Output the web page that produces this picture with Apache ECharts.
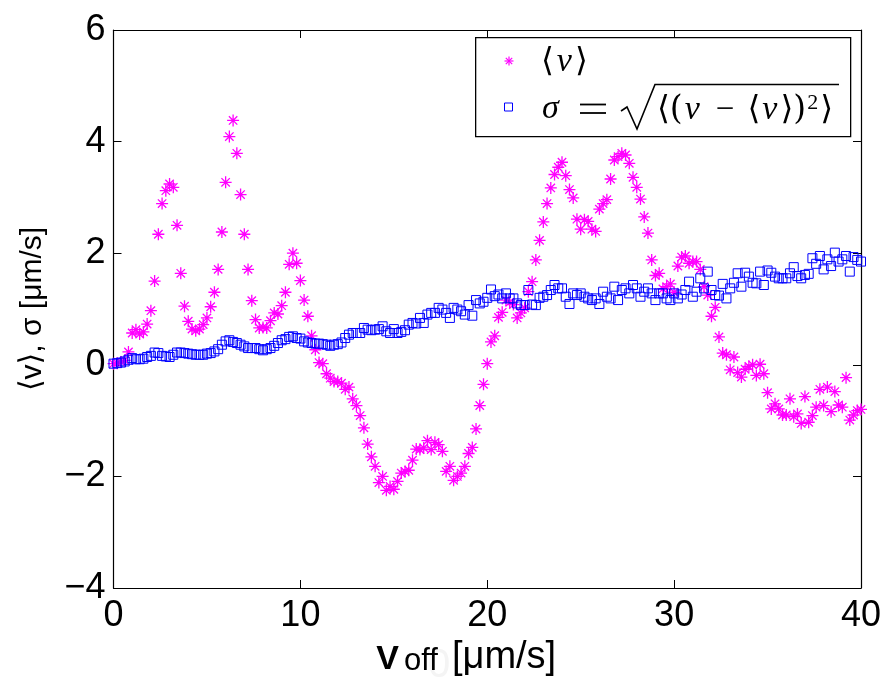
<!DOCTYPE html>
<html>
<head>
<meta charset="utf-8">
<script src="https://cdn.jsdelivr.net/npm/echarts@6/dist/echarts.min.js"></script>
<style>
html,body{margin:0;padding:0;background:#fff;}
#chart{width:887px;height:695px;}
</style>
</head>
<body>
<div id="chart"></div>
<script>
// sample grid (V_off, µm/s)
const vOff = [
0,0.2,0.4,0.6,0.8,1,1.2,1.4,1.6,1.8,
2,2.2,2.4,2.6,2.8,3,3.2,3.4,3.6,3.8,
4,4.2,4.4,4.6,4.8,5,5.2,5.4,5.6,5.8,
6,6.2,6.4,6.6,6.8,7,7.2,7.4,7.6,7.8,
8,8.2,8.4,8.6,8.8,9,9.2,9.4,9.6,9.8,
10,10.2,10.4,10.6,10.8,11,11.2,11.4,11.6,11.8,
12,12.2,12.4,12.6,12.8,13,13.2,13.4,13.6,13.8,
14,14.2,14.4,14.6,14.8,15,15.2,15.4,15.6,15.8,
16,16.2,16.4,16.6,16.8,17,17.2,17.4,17.6,17.8,
18,18.2,18.4,18.6,18.8,19,19.2,19.4,19.6,19.8,
20,20.2,20.4,20.6,20.8,21,21.2,21.4,21.6,21.8,
22,22.2,22.4,22.6,22.8,23,23.2,23.4,23.6,23.8,
24,24.2,24.4,24.6,24.8,25,25.2,25.4,25.6,25.8,
26,26.2,26.4,26.6,26.8,27,27.2,27.4,27.6,27.8,
28,28.2,28.4,28.6,28.8,29,29.2,29.4,29.6,29.8,
30,30.2,30.4,30.6,30.8,31,31.2,31.4,31.6,31.8,
32,32.2,32.4,32.6,32.8,33,33.2,33.4,33.6,33.8,
34,34.2,34.4,34.6,34.8,35,35.2,35.4,35.6,35.8,
36,36.2,36.4,36.6,36.8,37,37.2,37.4,37.6,37.8,
38,38.2,38.4,38.6,38.8,39,39.2,39.4,39.6,39.8,
40];

// <v>
const meanV = [
0.02,0.03,0.05,0.08,0.23,0.57,0.63,0.55,0.59,0.73,
0.97,1.50,2.34,2.89,3.12,3.24,3.18,2.50,1.64,1.05,
0.78,0.64,0.61,0.64,0.72,0.84,1.04,1.30,1.71,2.38,
3.27,4.09,4.38,3.79,3.05,2.34,1.71,1.15,0.81,0.66,
0.67,0.66,0.79,0.93,0.91,1.06,1.30,1.80,2.00,1.82,
1.51,1.16,0.87,0.52,0.27,0.04,0.02,-0.16,-0.24,-0.30,
-0.30,-0.33,-0.44,-0.40,-0.61,-0.73,-0.91,-1.13,-1.42,-1.65,
-1.82,-2.11,-2.00,-2.25,-2.18,-2.23,-2.09,-1.94,-1.91,-1.89,
-1.71,-1.51,-1.52,-1.49,-1.36,-1.52,-1.39,-1.43,-1.55,-1.91,
-1.82,-2.07,-2.00,-1.94,-1.82,-1.59,-1.48,-1.15,-0.73,-0.35,
0.02,0.41,0.52,0.85,0.94,1.16,1.12,1.08,0.84,0.93,
1.02,1.31,1.49,1.88,2.23,2.56,2.89,3.17,3.41,3.54,
3.63,3.39,3.14,2.99,2.61,2.43,2.60,2.57,2.43,2.39,
2.79,2.89,2.96,3.33,3.67,3.73,3.79,3.76,3.61,3.36,
3.18,2.97,2.65,2.36,1.88,1.60,1.64,1.36,1.40,1.45,
1.30,1.77,1.93,1.95,1.82,1.85,1.85,1.71,1.40,1.25,
0.87,1.03,0.50,0.21,0.18,-0.09,0.14,-0.14,-0.22,-0.08,
-0.03,0.00,-0.19,0.01,-0.16,-0.50,-0.79,-0.70,-0.79,-0.90,
-0.90,-0.61,-0.93,-0.88,-1.05,-0.57,-1.03,-0.91,-0.76,-0.44,
-0.73,-0.40,-0.84,-0.48,-0.72,-0.76,-0.23,-0.99,-0.90,-0.82,
-0.80];

// sigma
const sigmaV = [
0.02,0.03,0.04,0.06,0.09,0.12,0.10,0.10,0.11,0.14,
0.16,0.22,0.21,0.16,0.15,0.14,0.18,0.22,0.22,0.21,
0.20,0.19,0.18,0.18,0.18,0.20,0.21,0.24,0.28,0.36,
0.42,0.44,0.41,0.39,0.36,0.33,0.30,0.30,0.30,0.28,
0.26,0.28,0.30,0.34,0.39,0.44,0.46,0.50,0.51,0.48,
0.47,0.42,0.40,0.39,0.38,0.38,0.37,0.36,0.34,0.36,
0.37,0.40,0.48,0.54,0.57,0.57,0.57,0.66,0.63,0.62,
0.63,0.64,0.69,0.60,0.57,0.64,0.57,0.59,0.62,0.72,
0.75,0.74,0.84,0.75,0.90,0.93,0.93,1.02,0.99,0.93,
0.84,1.02,0.99,0.96,0.90,1.07,0.88,1.16,1.10,1.13,
1.20,1.35,1.23,1.26,1.19,1.28,1.19,1.19,1.10,1.07,
1.07,1.34,1.08,1.07,1.20,1.22,1.25,1.34,1.43,1.37,
1.37,1.22,1.09,1.28,1.25,1.28,1.22,1.19,1.16,1.19,
1.09,1.31,1.22,1.19,1.40,1.16,1.34,1.37,1.28,1.43,
1.37,1.22,1.31,1.37,1.28,1.16,1.28,1.28,1.19,1.16,
1.28,1.19,1.26,1.34,1.49,1.22,1.31,1.55,1.37,1.67,
1.34,1.25,1.24,1.45,1.19,1.37,1.47,1.64,1.40,1.65,
1.58,1.47,1.46,1.67,1.43,1.69,1.65,1.58,1.55,1.55,
1.55,1.64,1.75,1.59,1.55,1.61,1.63,1.91,1.81,1.95,
1.71,1.89,1.77,2.01,1.85,1.89,1.95,1.67,1.93,1.88,
1.85];

const xTicks = [0, 10, 20, 30, 40];
const yTicks = [-4, -2, 0, 2, 4, 6];

const ASTERISK = 'path://M0,5L10,5M5,0L5,10M1.5,1.5L8.5,8.5M1.5,8.5L8.5,1.5';
const MAG = '#ff00ff';
const BLU = '#0000ff';
const SANS = '"Liberation Sans", Arial, Helvetica, sans-serif';
const SERIF = '"Liberation Serif", "DejaVu Serif", serif';
const BRK = '"DejaVu Sans", sans-serif';
const BRKS = '"DejaVu Serif", "DejaVu Sans", serif';

const chart = echarts.init(document.getElementById('chart'), null, {renderer: 'canvas'});

function axisCommon() {
  return {
    axisLine: {show: true, onZero: false, lineStyle: {color: '#000', width: 1.2}},
    axisTick: {show: true, inside: true, length: 8, lineStyle: {color: '#000', width: 1}},
    splitLine: {show: false}
  };
}

const option = {
  backgroundColor: '#fff',
  animation: false,
  grid: {left: 113.5, right: 26, top: 30, bottom: 107, containLabel: false},
  xAxis: [
    Object.assign({
      type: 'value', min: xTicks[0], max: xTicks[xTicks.length-1], interval: 10, position: 'bottom',
      axisLabel: {color: '#000', fontSize: 36, fontFamily: SANS, margin: 10},
      name: '{V|V}{s|off}{u|[μm/s]}',
      nameLocation: 'middle', nameGap: 50,
      nameTextStyle: {
        padding: [0, 42, 0, 0],
        rich: {
          V: {fontSize: 34, fontWeight: 'bold', fontFamily: SANS, color: '#000', verticalAlign: 'bottom', padding: [0, 5, 0, 0]},
          s: {fontSize: 31, fontFamily: SANS, color: '#000', verticalAlign: 'bottom', padding: [0, 14, 0, 0]},
          u: {fontSize: 38, fontFamily: SANS, color: '#000', verticalAlign: 'bottom'}
        }
      }
    }, axisCommon()),
    Object.assign({
      type: 'value', min: xTicks[0], max: xTicks[xTicks.length-1], interval: 10, position: 'top',
      axisLabel: {show: false}
    }, axisCommon())
  ],
  yAxis: [
    Object.assign({
      type: 'value', min: yTicks[0], max: yTicks[yTicks.length-1], interval: 2, position: 'left',
      axisLabel: {color: '#000', fontSize: 36, fontFamily: SANS, margin: 8,
        formatter: v => (v < 0 ? '\u2212' + Math.abs(v) : String(v))},
      name: '{b|⟨}{t|v}{b|⟩}{t|, σ [μm/s]}',
      nameLocation: 'middle', nameGap: 66, nameRotate: 90,
      nameTextStyle: {
        rich: {
          b: {fontSize: 30, fontFamily: BRK, color: '#000'},
          t: {fontSize: 30, fontFamily: SANS, color: '#000'}
        }
      }
    }, axisCommon()),
    Object.assign({
      type: 'value', min: yTicks[0], max: yTicks[yTicks.length-1], interval: 2, position: 'right',
      axisLabel: {show: false}
    }, axisCommon())
  ],
  series: [
    {
      name: '⟨v⟩', type: 'scatter',
      data: vOff.map((x, i) => [x, meanV[i]]),
      symbol: ASTERISK, symbolSize: 12,
      itemStyle: {color: 'rgba(0,0,0,0)', borderColor: MAG, borderWidth: 1.3, opacity: 1},
      z: 2
    },
    {
      name: 'σ', type: 'scatter',
      data: vOff.map((x, i) => [x, sigmaV[i]]),
      symbol: 'rect', symbolSize: 9,
      itemStyle: {color: 'rgba(0,0,0,0)', borderColor: BLU, borderWidth: 1, opacity: 1},
      z: 3
    }
  ],
  graphic: [
    {type: 'rect', left: 475, top: 37, z: 100,
     shape: {width: 375, height: 99},
     style: {fill: '#fff', stroke: '#000', lineWidth: 1.3}},
    // legend symbol: asterisk
    {type: 'line', z: 101, shape: {x1: 504.5, y1: 61, x2: 513.5, y2: 61}, style: {stroke: MAG, lineWidth: 1.2}},
    {type: 'line', z: 101, shape: {x1: 509, y1: 56.5, x2: 509, y2: 65.5}, style: {stroke: MAG, lineWidth: 1.2}},
    {type: 'line', z: 101, shape: {x1: 505.8, y1: 57.8, x2: 512.2, y2: 64.2}, style: {stroke: MAG, lineWidth: 1.2}},
    {type: 'line', z: 101, shape: {x1: 505.8, y1: 64.2, x2: 512.2, y2: 57.8}, style: {stroke: MAG, lineWidth: 1.2}},
    {type: 'rect', z: 101, shape: {x: 504.5, y: 103, width: 8, height: 8},
     style: {fill: 'rgba(0,0,0,0)', stroke: BLU, lineWidth: 1}},
    {type: 'text', z: 101, x: 541, y: 62,
     style: {
       text: '{b|⟨}{i|v}{b|⟩}',
       verticalAlign: 'middle', align: 'left',
       rich: {
         b: {fontSize: 33, fontFamily: BRKS, fill: '#000'},
         i: {fontSize: 34, fontFamily: SERIF, fontStyle: 'italic', fill: '#000', padding: [0, 3, 0, 3]}
       }
     }},
    {type: 'text', z: 101, x: 542, y: 109,
     style: {text: 'σ', fontSize: 34, fontFamily: SERIF, fontStyle: 'italic', fill: '#000',
             verticalAlign: 'middle', align: 'left'}},
    // wide "=" sign
    {type: 'line', z: 101, shape: {x1: 580, y1: 104.5, x2: 606, y2: 104.5}, style: {stroke: '#000', lineWidth: 1.8}},
    {type: 'line', z: 101, shape: {x1: 580, y1: 113, x2: 606, y2: 113}, style: {stroke: '#000', lineWidth: 1.8}},
    {type: 'polyline', z: 101,
     shape: {points: [[621, 111], [627, 107], [637, 129], [655, 84.5], [839, 84.5]]},
     style: {stroke: '#000', lineWidth: 1.6, fill: null}},
    {type: 'text', z: 101, x: 657, y: 110,
     style: {
       text: '{b|⟨(}{i|v}{m|−}{b|⟨}{i|v}{b|⟩)}{p|2}{b|⟩}',
       verticalAlign: 'middle', align: 'left',
       rich: {
         b: {fontSize: 33, fontFamily: BRKS, fill: '#000'},
         i: {fontSize: 34, fontFamily: SERIF, fontStyle: 'italic', fill: '#000', padding: [0, 3, 0, 2]},
         m: {fontSize: 33, fontFamily: SERIF, fill: '#000', padding: [0, 13, 0, 13]},
         p: {fontSize: 22, fontFamily: SERIF, fill: '#000', verticalAlign: 'top', padding: [0, 2, 14, 1]}
       }
     }},
    // faint ghost mark below the axis title
    {type: 'text', z: -10, x: 428, y: 646, silent: true,
     style: {text: '0', fontSize: 40, fontFamily: SANS, fill: '#f4f4f4'}}
  ]
};

chart.setOption(option);
</script>
</body>
</html>
